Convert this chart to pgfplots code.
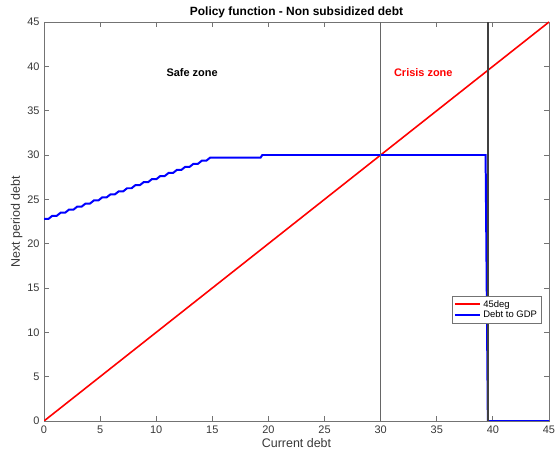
\documentclass[border=0pt]{standalone}
\usepackage{pgfplots}
\pgfplotsset{compat=1.18}
\usepackage{fontspec}
\setmainfont{Liberation Sans}
\definecolor{axgray}{gray}{0.45}
\definecolor{txtgray}{gray}{0.22}
\begin{document}
\begin{tikzpicture}
\useasboundingbox (0,0) rectangle (556bp,464bp);
\begin{axis}[
  at={(44bp,43bp)}, anchor=south west,
  width=505bp, height=399bp, scale only axis,
  xmin=0, xmax=45, ymin=0, ymax=45,
  xtick={0,5,...,45}, ytick={0,5,...,45},
  xtick pos=both, ytick pos=both,
  tick align=inside, major tick length=5bp,
  axis line style={axgray, line width=0.6pt},
  tick style={draw=black!55, line width=0.8pt},
  tick label style={font=\fontsize{11}{13}\selectfont, text=txtgray},
  xticklabel style={yshift=-1bp},
  yticklabel style={xshift=-1bp},
  /pgf/number format/assume math mode=true,
  xlabel={Current debt}, ylabel={Next period debt},
  label style={font=\fontsize{12.5}{14}\selectfont, text=txtgray},
  xlabel style={yshift=2bp},
  ylabel style={yshift=-2bp},
  title={\bfseries Policy function - Non subsidized debt},
  title style={font=\fontsize{12}{14}\selectfont, yshift=-5bp},
  legend style={at={(axis cs:44.3,14.1)}, anchor=north east, draw=axgray,
    font=\fontsize{9.5}{10}\selectfont, row sep=-2pt, inner sep=2pt},
  legend cell align=left,
  legend image code/.code={\draw[#1, line width=1.8pt] (0cm,0cm) -- (0.9cm,0cm);},
]
\addplot[red, line width=1.6pt] coordinates {(0,0) (45,45)};
\addlegendentry{45deg}
\addplot[blue, line width=2pt] coordinates {
(0,22.8) (0.4,22.8)
(0.74,23.145) (1.14,23.145)
(1.48,23.49) (1.88,23.49)
(2.22,23.835) (2.62,23.835)
(2.96,24.18) (3.36,24.18)
(3.70,24.525) (4.10,24.525)
(4.44,24.87) (4.84,24.87)
(5.18,25.215) (5.58,25.215)
(5.92,25.56) (6.32,25.56)
(6.66,25.905) (7.06,25.905)
(7.40,26.25) (7.80,26.25)
(8.14,26.595) (8.54,26.595)
(8.88,26.94) (9.28,26.94)
(9.62,27.285) (10.02,27.285)
(10.36,27.63) (10.76,27.63)
(11.10,27.975) (11.50,27.975)
(11.84,28.32) (12.24,28.32)
(12.58,28.665) (12.98,28.665)
(13.32,29.01) (13.72,29.01)
(14.06,29.355) (14.46,29.355)
(14.80,29.70) (19.3,29.70)
(19.45,30.0) (39.35,30.0)
(39.55,0) (45,0)
};
\addlegendentry{Debt to GDP}
\addplot[black!60, line width=1.3pt, forget plot] coordinates {(30,0) (30,45)};
\addplot[black!75, line width=2pt, forget plot] coordinates {(39.6,0) (39.6,45)};
\node[font=\fontsize{11}{13}\selectfont\bfseries] at (axis cs:13.2,39.3) {Safe zone};
\node[font=\fontsize{11}{13}\selectfont\bfseries, text=red] at (axis cs:33.8,39.3) {Crisis zone};
\end{axis}
\end{tikzpicture}
\end{document}
